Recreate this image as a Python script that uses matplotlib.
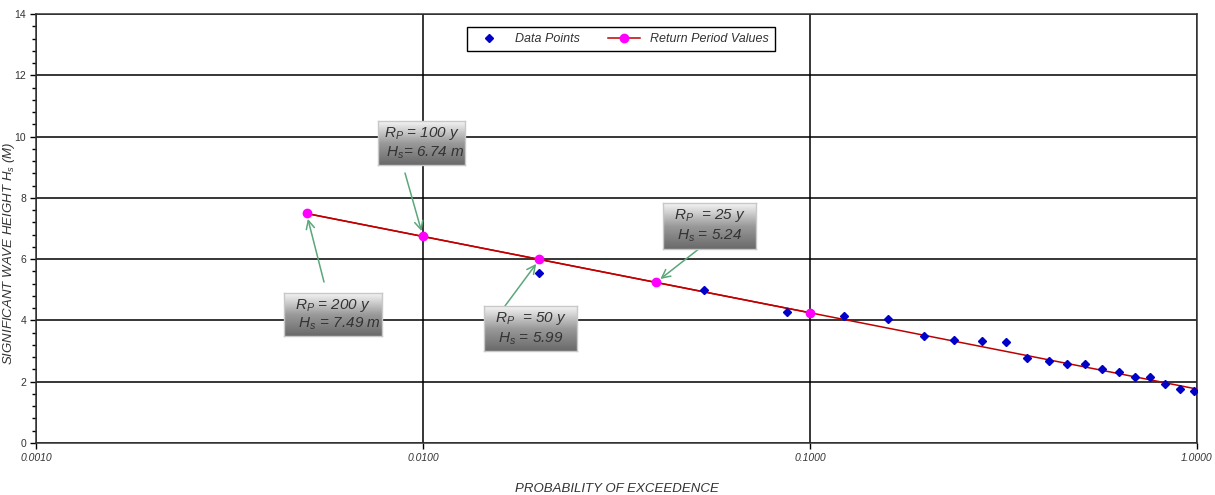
import numpy as np
import matplotlib
matplotlib.use("Agg")
import matplotlib.pyplot as plt
from matplotlib.colors import LinearSegmentedColormap
from matplotlib.ticker import FixedLocator, MultipleLocator, FixedFormatter

plt.rcParams['font.family'] = ['Liberation Sans', 'DejaVu Sans']
plt.rcParams['mathtext.fontset'] = 'custom'
plt.rcParams['mathtext.it'] = 'Liberation Sans:italic'
plt.rcParams['mathtext.rm'] = 'Liberation Sans:italic'

# ---- data ----
data_prob = [0.0200, 0.0532, 0.0871, 0.1227, 0.159, 0.197, 0.236, 0.278, 0.321, 0.364,
             0.414, 0.461, 0.514, 0.569, 0.627, 0.692, 0.756, 0.828, 0.904, 0.984]
data_hs = [5.55, 4.99, 4.29, 4.16, 4.05, 3.50, 3.36, 3.33, 3.31, 2.77,
           2.68, 2.58, 2.57, 2.41, 2.31, 2.15, 2.16, 1.91, 1.77, 1.71]

rp_years = [200, 100, 50, 25, 10]
rp_prob = [0.005, 0.01, 0.02, 0.04, 0.1]
rp_hs = [7.49, 6.74, 5.99, 5.24, 4.25]

fit_prob = [0.005, 1.0]
fit_hs = [7.49, 1.76]

x_ticks = [0.001, 0.01, 0.1, 1.0]
x_tick_labels = ['0.0010', '0.0100', '0.1000', '1.0000']

annotations = [
    # text lines, box (left, top, width, height in image px), arrow start (image px), target index
    ([r'$R_P$ = 100 y', r'  $H_s$= 6.74 m'], (378, 121, 87, 44), (405, 173), 1),
    ([r'$R_P$ = 200 y', r'   $H_s$ = 7.49 m'], (284, 293, 98, 43), (324, 282), 0),
    ([r'$R_P$  = 50 y', r'$H_s$ = 5.99'], (484, 306, 93, 45), (502, 310), 2),
    ([r'$R_P$  = 25 y', r'$H_s$ = 5.24'], (663, 203, 93, 46), (700, 248), 3),
]

W, H = 1215, 495
fig = plt.figure(figsize=(W / 100, H / 100), dpi=100)
ax = fig.add_axes([36 / W, 1 - 443 / H, (1197 - 36) / W, (443 - 14) / H])

ax.set_xscale('log')
ax.set_xlim(0.001, 1.0)
ax.set_ylim(0, 14)

ax.xaxis.set_major_locator(FixedLocator(x_ticks))
ax.xaxis.set_major_formatter(FixedFormatter(x_tick_labels))
ax.xaxis.set_minor_locator(FixedLocator([]))
ax.yaxis.set_major_locator(MultipleLocator(2))
ax.yaxis.set_minor_locator(MultipleLocator(0.4))

ax.grid(True, which='major', color='black', lw=1.1)
ax.set_axisbelow(True)
for s in ax.spines.values():
    s.set_color('#333333')
    s.set_linewidth(1.1)

ax.tick_params(axis='both', which='major', direction='out', length=4, width=1,
               labelsize=7.5, colors='black', pad=3)
ax.tick_params(axis='y', which='minor', direction='out', length=3, width=1)
ax.tick_params(axis='y', labelcolor='#333333')
for lab in ax.get_xticklabels():
    lab.set_style('italic')
    lab.set_color('#333333')

# fit line and series
ax.plot(fit_prob, fit_hs, color='#c00000', lw=1.1, zorder=3)
ax.plot(rp_prob, rp_hs, color='#c00000', lw=1.1, marker='o', markersize=6,
        markerfacecolor='#ff00ff', markeredgecolor='#ff00ff', label='Return Period Values', zorder=4)
ax.plot(data_prob, data_hs, linestyle='none', marker='D', markersize=4.4,
        color='#0000c8', label='Data Points', zorder=5)

handles, labels = ax.get_legend_handles_labels()
leg = ax.legend(handles[::-1], labels[::-1], ncol=2, loc='center',
                bbox_to_anchor=((467 + 775) / 2 / W, 1 - 39 / H), bbox_transform=fig.transFigure,
                frameon=True, fancybox=False, edgecolor='black', framealpha=1,
                prop={'style': 'italic', 'size': 9}, handlelength=2.6, columnspacing=2.2,
                borderpad=0.45)
leg.get_frame().set_linewidth(1.0)
for t in leg.get_texts():
    t.set_color('#333333')

ax.set_xlabel('PROBABILITY OF EXCEEDENCE', fontsize=9.5, style='italic', color='#333333')
ax.xaxis.set_label_coords((617 - 36) / (1197 - 36), -(483 - 443) / (443 - 14))
ax.set_ylabel('SIGNIFICANT WAVE HEIGHT $H_s$ (M)', fontsize=9.5, style='italic', color='#333333')
ax.yaxis.set_label_coords(-(36 - 17) / (1197 - 36), (443 - 253) / (443 - 14))

# gradient annotation boxes
cmap = LinearSegmentedColormap.from_list('g', ['#6a6a6a', '#9a9a9a', '#f4f4f4'])
grad = np.linspace(0, 1, 64).reshape(-1, 1)
for lines, (l, t, w, h), (sx, sy), idx in annotations:
    ax.annotate('', xy=(rp_prob[idx], rp_hs[idx]), xycoords='data',
                xytext=(sx, H - sy), textcoords='figure pixels',
                arrowprops=dict(arrowstyle='->,head_length=0.6,head_width=0.3',
                                color='#5aa77a', lw=1.1, shrinkA=0, shrinkB=4),
                zorder=6)
    bax = fig.add_axes([l / W, 1 - (t + h) / H, w / W, h / H])
    bax.imshow(grad, cmap=cmap, aspect='auto', extent=[0, 1, 0, 1], origin='lower')
    bax.set_xticks([])
    bax.set_yticks([])
    for s in bax.spines.values():
        s.set_color('#c8c8c8')
        s.set_linewidth(1)
    bax.text(0.5, 0.72, lines[0], transform=bax.transAxes, ha='center', va='center',
             fontsize=11, style='italic', color='#333333')
    bax.text(0.5, 0.28, lines[1], transform=bax.transAxes, ha='center', va='center',
             fontsize=11, style='italic', color='#333333')

fig.savefig('out.png', dpi=100)
